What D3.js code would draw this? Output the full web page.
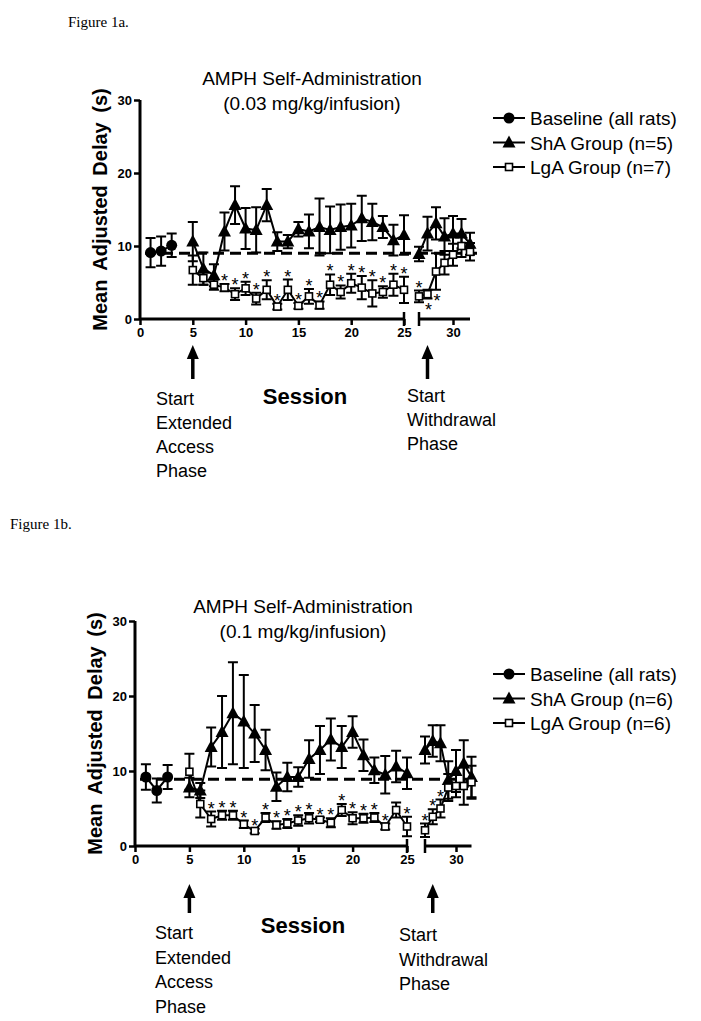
<!DOCTYPE html>
<html><head><meta charset="utf-8">
<script src="https://cdn.jsdelivr.net/npm/d3@7/dist/d3.min.js"></script>
<style>body{margin:0;background:#fff}svg{display:block}</style>
</head><body>
<svg id="c" width="701" height="1021"></svg>
<script>
// ---------- DATA ----------
const sessionsBaseline = [1, 2, 3];
const sessionsMain = [5,6,7,8,9,10,11,12,13,14,15,16,17,18,19,20,21,22,23,24,25];
const sessionsWithdrawal = [26,27,28,29,30,31,32];
const xTicksMain = [0,5,10,15,20,25];
const xTicksWithdrawal = [30];
const yTicks = [0,10,20,30];

// Figure 1a (0.03 mg/kg/infusion)
const baselineA = [9.1, 9.3, 10.1];
const baselineAErr = [2.0, 2.0, 1.6];
const baselineMeanA = 9.0;
const shaAMain = [10.6, 6.9, 6.0, 12.0, 15.6, 12.4, 12.2, 15.6, 10.6, 10.6, 12.3, 12.0, 12.6, 12.2, 12.6, 12.8, 13.8, 13.3, 12.6, 10.8, 11.5];
const shaAMainErr = [2.7, 2.2, 1.5, 2.6, 2.6, 2.8, 3.1, 2.2, 1.3, 0.9, 1.0, 2.3, 3.9, 3.2, 3.1, 3.0, 3.1, 2.5, 1.5, 2.1, 2.7];
const shaAWd = [8.9, 11.7, 13.1, 11.3, 11.7, 11.7, 10.3];
const shaAWdErr = [1.0, 2.3, 2.2, 2.5, 2.4, 2.0, 1.5];
const lgaAMain = [6.7, 5.6, 4.7, 4.3, 3.4, 4.2, 2.8, 4.0, 1.7, 4.0, 1.8, 3.1, 1.9, 4.7, 3.7, 4.9, 4.3, 3.5, 3.7, 4.7, 4.0];
const lgaAMainErr = [2.0, 0.9, 0.7, 0.5, 0.8, 0.9, 0.8, 1.3, 0.4, 1.4, 0.4, 1.0, 0.5, 1.4, 0.9, 1.3, 1.6, 1.8, 0.8, 1.5, 1.8];
const lgaAWd = [3.1, 3.4, 6.5, 7.7, 8.8, 10.0, 9.2];
const lgaAWdErr = [0.8, 0.6, 2.5, 1.6, 1.5, 1.5, 1.2];
const starsAAbove = [8,9,10,11,12,13,14,15,16,17,18,19,20,21,22,23,24,25,26];
const starsABelow = [27,28];

// Figure 1b (0.1 mg/kg/infusion)
const baselineB = [9.2, 7.4, 9.2];
const baselineBErr = [1.7, 1.6, 1.6];
const baselineMeanB = 8.9;
const shaBMain = [7.8, 7.4, 13.2, 15.2, 17.7, 16.6, 15.0, 12.8, 7.9, 9.2, 9.2, 11.6, 12.8, 14.2, 13.2, 15.2, 12.1, 10.1, 9.5, 10.6, 9.7];
const shaBMainErr = [1.3, 1.0, 2.6, 4.8, 6.8, 6.2, 3.8, 2.7, 1.9, 1.9, 1.3, 2.5, 3.2, 2.8, 2.8, 2.1, 2.1, 1.7, 2.5, 2.1, 2.1];
const shaBWd = [12.8, 14.0, 13.7, 8.8, 10.0, 11.0, 9.2];
const shaBWdErr = [1.8, 2.1, 2.4, 2.5, 2.8, 3.1, 2.7];
const lgaBMain = [9.9, 5.6, 3.6, 4.1, 4.1, 2.9, 2.0, 3.8, 2.8, 3.0, 3.4, 3.7, 3.5, 3.1, 4.8, 3.7, 3.7, 3.8, 2.6, 4.8, 2.6];
const lgaBMainErr = [2.4, 1.8, 1.0, 0.6, 0.6, 0.5, 0.3, 0.6, 0.5, 0.6, 0.7, 0.7, 0.3, 0.6, 0.8, 0.8, 0.6, 0.6, 0.4, 1.0, 1.3];
const lgaBWd = [2.1, 3.9, 5.0, 7.8, 8.0, 8.0, 8.5];
const lgaBWdErr = [0.9, 1.0, 1.2, 1.8, 1.5, 2.5, 2.2];
const starsBAbove = [7,8,9,10,11,12,13,14,15,16,17,18,19,20,21,22,23,25,26,27,28];
const starsBBelow = [];

const legendLabelsA = ["Baseline (all rats)", "ShA Group (n=5)", "LgA Group (n=7)"];
const legendLabelsB = ["Baseline (all rats)", "ShA Group (n=6)", "LgA Group (n=6)"];

// ---------- DRAW ----------
const svg = d3.select("#c");
const SANS = "'Liberation Sans', Arial, sans-serif";

function drawChart(cfg) {
  const g = svg.append("g");
  const y = d3.scaleLinear().domain([0, 30]).range([cfg.y0, cfg.y30]);
  const xMain = d3.scaleLinear().domain([0, 25]).range([cfg.x0, cfg.x25]);
  const xWd = d3.scaleLinear().domain([26, 32]).range([cfg.x26, cfg.x32]);
  const xOf = s => s <= 25 ? xMain(s) : xWd(s);

  // dashed baseline
  g.append("line").attr("x1", cfg.x0 + 5).attr("x2", cfg.x32 + 7)
    .attr("y1", y(cfg.bmean)).attr("y2", y(cfg.bmean))
    .attr("stroke", "#000").attr("stroke-width", 3).attr("stroke-dasharray", "11,6");

  // axes
  const fmt = d3.format("d");
  const yAxis = d3.axisLeft(y).tickValues(yTicks).tickFormat(fmt).tickSize(6).tickPadding(2);
  const ya = g.append("g").attr("transform", `translate(${cfg.x0},0)`).call(yAxis);
  const xa1 = g.append("g").attr("transform", `translate(0,${cfg.y0})`)
    .call(d3.axisBottom(xMain).tickValues(xTicksMain).tickFormat(fmt).tickSize(6).tickPadding(3));
  const xa2 = g.append("g").attr("transform", `translate(0,${cfg.y0})`)
    .call(d3.axisBottom(xWd).tickValues(xTicksWithdrawal).tickFormat(fmt).tickSize(6).tickPadding(3));
  [ya, xa1, xa2].forEach(a => {
    a.select(".domain").attr("stroke", "#000").attr("stroke-width", 3);
    a.selectAll(".tick line").attr("stroke", "#000").attr("stroke-width", 2.5);
    a.selectAll("text").attr("font-family", SANS).attr("font-weight", "bold")
      .attr("font-size", 13).attr("fill", "#000");
  });
  xa1.select(".domain").attr("d", `M${cfg.x0},0H${cfg.x25}`);
  xa2.select(".domain").attr("d", `M${cfg.x26},0H${cfg.x32}`);
  ya.select(".domain").attr("d", `M0,${cfg.y0}V${cfg.y30}`);
  // break markers
  [cfg.x25, cfg.x26].forEach(xx => {
    g.append("line").attr("x1", xx).attr("x2", xx).attr("y1", cfg.y0 - 7).attr("y2", cfg.y0 + 7)
      .attr("stroke", "#000").attr("stroke-width", 2.5);
  });

  // series helpers
  function series(sessions, vals, errs, kind) {
    const pts = sessions.map((s, i) => ({ s, v: vals[i], e: errs[i] }));
    pts.forEach(p => {
      const cx = xOf(p.s);
      const yt = y(p.v + p.e), yb = y(Math.max(0, p.v - p.e));
      g.append("path").attr("d", `M${cx},${yt}V${yb}M${cx - 5},${yt}H${cx + 5}M${cx - 5},${yb}H${cx + 5}`)
        .attr("stroke", "#000").attr("stroke-width", 2).attr("fill", "none");
    });
    g.append("path").datum(pts)
      .attr("d", d3.line().x(p => xOf(p.s)).y(p => y(p.v)))
      .attr("stroke", "#000").attr("stroke-width", 2).attr("fill", "none");
    pts.forEach(p => marker(g, xOf(p.s), y(p.v), kind));
  }

  series(sessionsBaseline, cfg.base, cfg.baseErr, "circle");
  series(sessionsMain, cfg.shaMain, cfg.shaMainErr, "triangle");
  series(sessionsWithdrawal, cfg.shaWd, cfg.shaWdErr, "triangle");
  series(sessionsMain, cfg.lgaMain, cfg.lgaMainErr, "square");
  series(sessionsWithdrawal, cfg.lgaWd, cfg.lgaWdErr, "square");

  // asterisks
  const lgaVal = s => s <= 25 ? [cfg.lgaMain[sessionsMain.indexOf(s)], cfg.lgaMainErr[sessionsMain.indexOf(s)]]
                             : [cfg.lgaWd[sessionsWithdrawal.indexOf(s)], cfg.lgaWdErr[sessionsWithdrawal.indexOf(s)]];
  cfg.starsAbove.forEach(s => {
    const [v, e] = lgaVal(s);
    g.append("text").attr("x", xOf(s)).attr("y", y(v + e) + 3).attr("text-anchor", "middle")
      .attr("font-family", SANS).attr("font-size", 18).text("*");
  });
  cfg.starsBelow.forEach(s => {
    const [v, e] = lgaVal(s);
    g.append("text").attr("x", xOf(s) + 1).attr("y", y(v - e) + 17).attr("text-anchor", "middle")
      .attr("font-family", SANS).attr("font-size", 18).text("*");
  });

  // y label
  g.append("text").attr("transform", `translate(${cfg.ylabX},${(cfg.y0 + cfg.y30) / 2}) rotate(-90)`)
    .attr("text-anchor", "middle").attr("font-family", SANS).attr("font-weight", "bold")
    .attr("font-size", 20).attr("word-spacing", 4).text("Mean Adjusted Delay (s)");

  // title
  cfg.title.forEach((t, i) => {
    g.append("text").attr("x", cfg.titleX).attr("y", cfg.titleY + i * 25).attr("text-anchor", "middle")
      .attr("font-family", SANS).attr("font-size", 19).text(t);
  });

  // legend
  const kinds = ["circle", "triangle", "square"];
  cfg.legend.forEach((t, i) => {
    const ly = cfg.legY + i * 24.5;
    g.append("line").attr("x1", 493).attr("x2", 525).attr("y1", ly).attr("y2", ly)
      .attr("stroke", "#000").attr("stroke-width", 2);
    marker(g, 509, ly, kinds[i]);
    g.append("text").attr("x", 530).attr("y", ly + 7).attr("font-family", SANS)
      .attr("font-size", 19).text(t);
  });

  // session label
  g.append("text").attr("x", cfg.sessX).attr("y", cfg.sessY).attr("text-anchor", "middle")
    .attr("font-family", SANS).attr("font-weight", "bold").attr("font-size", 22).text("Session");

  // arrows
  [5, 27].forEach(s => {
    const ax = xOf(s);
    g.append("line").attr("x1", ax).attr("x2", ax).attr("y1", cfg.arrTip + 10).attr("y2", cfg.arrBot)
      .attr("stroke", "#000").attr("stroke-width", 3.5);
    g.append("path").attr("d", `M${ax},${cfg.arrTip}L${ax - 6},${cfg.arrTip + 14}L${ax + 6},${cfg.arrTip + 14}Z`)
      .attr("fill", "#000");
  });
  ["Start", "Extended", "Access", "Phase"].forEach((t, i) => {
    g.append("text").attr("x", cfg.noteLX).attr("y", cfg.noteLY + i * cfg.noteDy)
      .attr("font-family", SANS).attr("font-size", 18).text(t);
  });
  ["Start", "Withdrawal", "Phase"].forEach((t, i) => {
    g.append("text").attr("x", cfg.noteRX).attr("y", cfg.noteRY + i * cfg.noteDy)
      .attr("font-family", SANS).attr("font-size", 18).text(t);
  });
}

function marker(g, cx, cy, kind) {
  if (kind === "circle") {
    g.append("circle").attr("cx", cx).attr("cy", cy).attr("r", 5.5).attr("fill", "#000");
  } else if (kind === "triangle") {
    g.append("path").attr("d", `M${cx},${cy - 7}L${cx - 6.5},${cy + 5}L${cx + 6.5},${cy + 5}Z`).attr("fill", "#000");
  } else {
    g.append("rect").attr("x", cx - 3.5).attr("y", cy - 3.5).attr("width", 7).attr("height", 7)
      .attr("fill", "#fff").attr("stroke", "#000").attr("stroke-width", 1.6);
  }
}

// figure captions
svg.append("text").attr("x", 68).attr("y", 27).attr("font-family", "'Liberation Serif', 'Times New Roman', serif")
  .attr("font-size", 15).text("Figure 1a.");
svg.append("text").attr("x", 10).attr("y", 529).attr("font-family", "'Liberation Serif', 'Times New Roman', serif")
  .attr("font-size", 15).text("Figure 1b.");

drawChart({
  x0: 140, x25: 404, x26: 419, x32: 470, y0: 319, y30: 100,
  bmean: baselineMeanA, base: baselineA, baseErr: baselineAErr,
  shaMain: shaAMain, shaMainErr: shaAMainErr, shaWd: shaAWd, shaWdErr: shaAWdErr,
  lgaMain: lgaAMain, lgaMainErr: lgaAMainErr, lgaWd: lgaAWd, lgaWdErr: lgaAWdErr,
  starsAbove: starsAAbove, starsBelow: starsABelow,
  ylabX: 107, title: ["AMPH Self-Administration", "(0.03 mg/kg/infusion)"], titleX: 312, titleY: 85,
  legend: legendLabelsA, legY: 118,
  sessX: 305, sessY: 404, arrTip: 345, arrBot: 379,
  noteLX: 156, noteLY: 405, noteRX: 407, noteRY: 402, noteDy: 24
});

drawChart({
  x0: 135, x25: 407, x26: 425, x32: 471.5, y0: 846, y30: 621,
  bmean: baselineMeanB, base: baselineB, baseErr: baselineBErr,
  shaMain: shaBMain, shaMainErr: shaBMainErr, shaWd: shaBWd, shaWdErr: shaBWdErr,
  lgaMain: lgaBMain, lgaMainErr: lgaBMainErr, lgaWd: lgaBWd, lgaWdErr: lgaBWdErr,
  starsAbove: starsBAbove, starsBelow: starsBBelow,
  ylabX: 102, title: ["AMPH Self-Administration", "(0.1 mg/kg/infusion)"], titleX: 303, titleY: 613,
  legend: legendLabelsB, legY: 674,
  sessX: 303, sessY: 933, arrTip: 884, arrBot: 913,
  noteLX: 155, noteLY: 939, noteRX: 399, noteRY: 941, noteDy: 24.6
});
</script>
</body></html>
